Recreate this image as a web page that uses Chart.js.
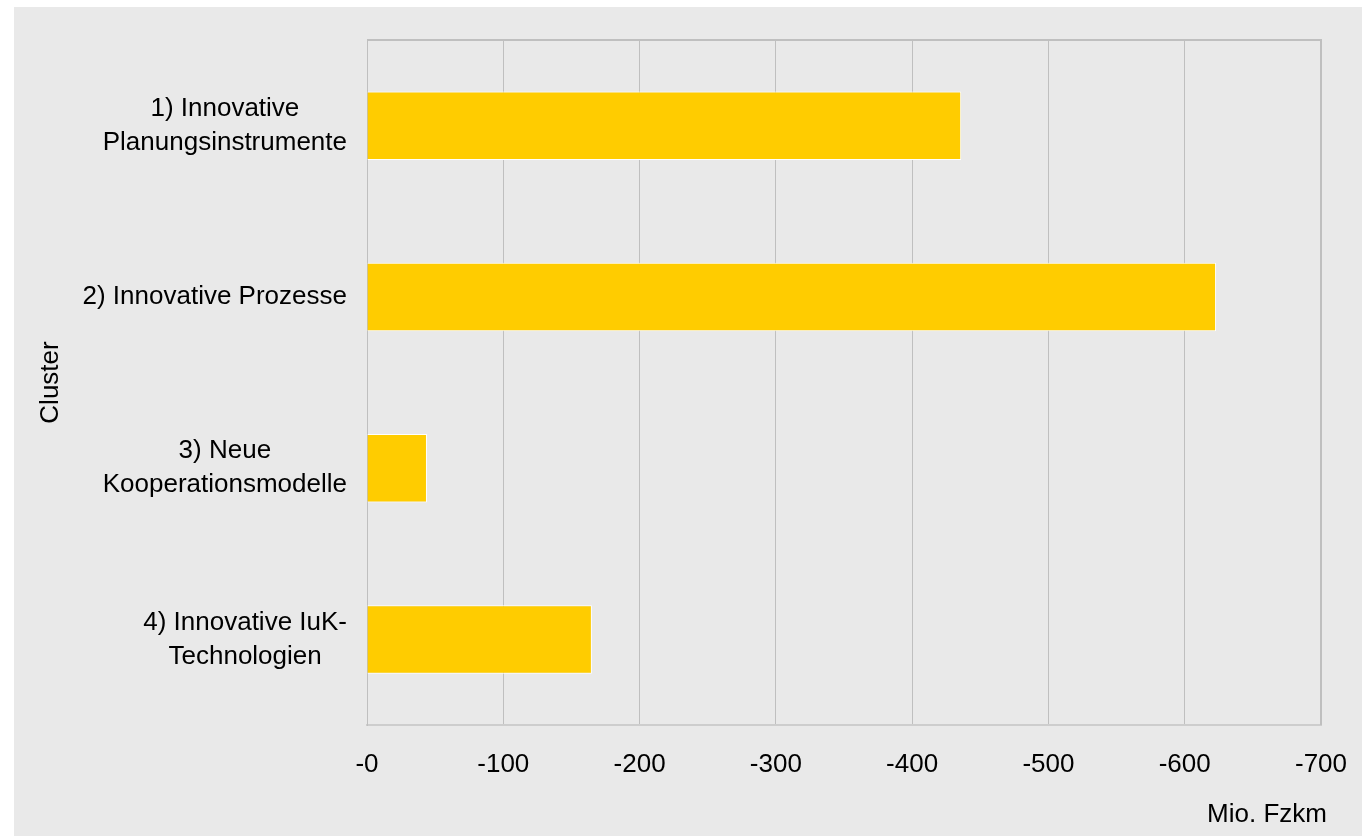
<!DOCTYPE html>
<html>
<head>
<meta charset="utf-8">
<script src="https://cdn.jsdelivr.net/npm/chart.js@4.4.1/dist/chart.umd.min.js"></script>
<style>
  html, body { margin: 0; padding: 0; background: #fff; }
  #wrap { width: 1362px; height: 836px; }
</style>
</head>
<body>
<div id="wrap"><canvas id="chart"></canvas></div>
<script>
// Reduction of vehicle kilometres per measure cluster (Mio. Fzkm)
const clusters = [
  ["1) Innovative", "Planungsinstrumente"],
  ["2) Innovative Prozesse"],
  ["3) Neue", "Kooperationsmodelle"],
  ["4) Innovative IuK-", "Technologien"],
];
const reduction = [-436, -623, -44, -165];
const xTickValues = [0, -100, -200, -300, -400, -500, -600, -700];
const xTickLabels = ["-0", "-100", "-200", "-300", "-400", "-500", "-600", "-700"];
const xTitle = "Mio. Fzkm";

const FONT = "'Liberation Sans', Arial, sans-serif";
const GRID = "#bfbfbf";

// grey panel behind the chart, plus the plot frame
const panel = {
  id: "panel",
  beforeDraw(chart) {
    const { ctx, width, height } = chart;
    ctx.save();
    ctx.fillStyle = "#e9e9e9";
    ctx.fillRect(14, 7, width - 14, height - 7);
    ctx.restore();
  },
  beforeDatasetsDraw(chart) {
    const { ctx, chartArea: a } = chart;
    ctx.save();
    ctx.strokeStyle = GRID;
    ctx.lineWidth = 2;
    ctx.beginPath();
    ctx.moveTo(a.left, a.top);
    ctx.lineTo(a.right, a.top);
    ctx.lineTo(a.right, a.bottom);
    ctx.stroke();
    ctx.restore();
  },
};

// category labels: each block centred on itself, block right-aligned to the axis;
// x title sits under the right end (reverse axis flips Chart.js' own title align)
const catLabels = {
  id: "catLabels",
  afterDraw(chart) {
    const { ctx, chartArea: a } = chart;
    const y = chart.scales.y;
    const lineH = 34;
    ctx.save();
    ctx.font = `26px ${FONT}`;
    ctx.fillStyle = "#000";
    ctx.textBaseline = "middle";
    ctx.textAlign = "center";
    clusters.forEach((lines, i) => {
      const w = Math.max(...lines.map((l) => ctx.measureText(l).width));
      const cx = a.left - 20 - w / 2;
      const cy = y.getPixelForTick(i);
      lines.forEach((l, j) => {
        ctx.fillText(l, cx, cy + (j - (lines.length - 1) / 2) * lineH);
      });
    });
    ctx.textAlign = "right";
    ctx.fillText(xTitle, a.right + 6, 815);
    ctx.restore();
  },
};

new Chart(document.getElementById("chart"), {
  type: "bar",
  data: {
    labels: clusters,
    datasets: [{
      data: reduction,
      backgroundColor: "#ffcc00",
      borderColor: "#ffffff",
      borderWidth: 1,
      barPercentage: 0.4,
      categoryPercentage: 1,
    }],
  },
  options: {
    indexAxis: "y",
    responsive: true,
    maintainAspectRatio: false,
    animation: false,
    layout: { padding: { top: 40, right: 41, bottom: 0, left: 0 } },
    plugins: { legend: { display: false }, tooltip: { enabled: false } },
    scales: {
      x: {
        type: "linear",
        min: -700,
        max: 0,
        reverse: true,
        afterBuildTicks: (s) => { s.ticks = xTickValues.map((v) => ({ value: v })); },
        afterFit: (s) => { s.height = 111; s.paddingLeft = 0; s.paddingRight = 0; },
        grid: { color: GRID, drawTicks: false },
        border: { display: true, color: "#cdcdcd", width: 2 },
        ticks: {
          padding: 24,
          color: "#000",
          font: { family: FONT, size: 26 },
          callback: (v, i) => xTickLabels[i],
        },
      },
      y: {
        afterFit: (s) => { s.width = 367; },
        grid: { display: false },
        border: { display: true, color: GRID, width: 1 },
        ticks: { display: false },
        title: {
          display: true,
          text: "Cluster",
          color: "#000",
          font: { family: FONT, size: 26 },
          padding: { top: 35, bottom: 0 },
        },
      },
    },
  },
  plugins: [panel, catLabels],
});
</script>
</body>
</html>
